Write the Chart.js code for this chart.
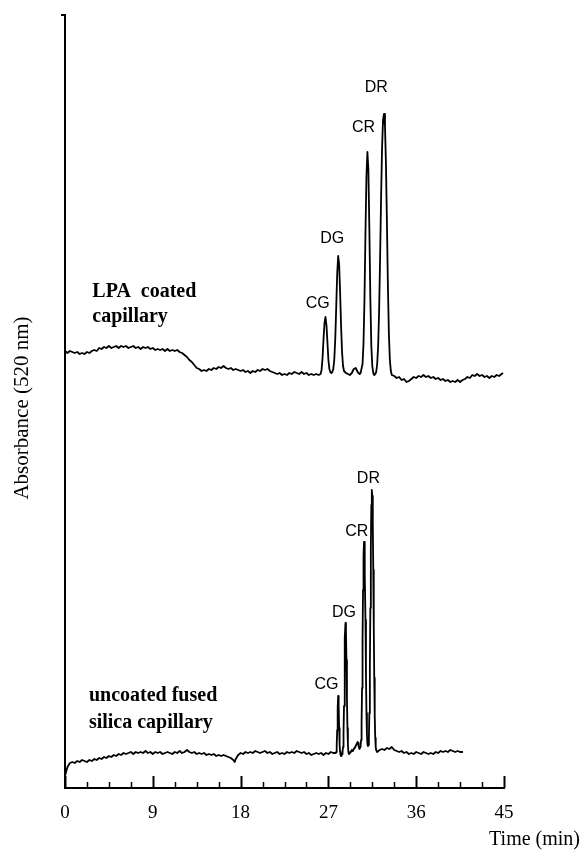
<!DOCTYPE html>
<html>
<head>
<meta charset="utf-8">
<style>
  html, body { margin: 0; padding: 0; background: #fff; }
  #wrap { width: 581px; height: 850px; }
</style>
<script src="https://cdn.jsdelivr.net/npm/chart.js@4.4.1/dist/chart.umd.min.js"></script>
</head>
<body>
<div id="wrap"><canvas id="chromatogram" width="581" height="850"></canvas></div>
<script>
// time axis (min)
const xTicksMajor = [0, 9, 18, 27, 36, 45];

// LPA coated capillary trace
const lpaTime = [
  0, 0.25, 0.5, 0.75, 1, 1.25, 1.5, 1.75, 2, 2.25, 2.5, 2.75, 3, 3.25, 3.5, 3.75,
  4, 4.25, 4.5, 4.75, 5, 5.25, 5.5, 5.75, 6, 6.25, 6.5, 6.75, 7, 7.25, 7.5, 7.75,
  8, 8.25, 8.5, 8.75, 9, 9.25, 9.5, 9.75, 10, 10.25, 10.5, 10.75, 11, 11.25, 11.5, 11.75,
  12, 12.25, 12.5, 12.75, 13, 13.25, 13.5, 13.75, 14, 14.25, 14.5, 14.75, 15, 15.25, 15.5, 15.75,
  16, 16.25, 16.5, 16.75, 17, 17.25, 17.5, 17.75, 18, 18.25, 18.5, 18.75, 19, 19.25, 19.5, 19.75,
  20, 20.25, 20.5, 20.75, 21, 21.25, 21.5, 21.75, 22, 22.25, 22.5, 22.75, 23, 23.25, 23.5, 23.75,
  24, 24.25, 24.5, 24.75, 25, 25.25, 25.5, 25.75, 26, 26.2, 26.3, 26.4, 26.5, 26.6, 26.7, 26.8,
  26.9, 27, 27.1, 27.2, 27.3, 27.4, 27.5, 27.6, 27.7, 27.8, 27.9, 28, 28.1, 28.2, 28.3, 28.4,
  28.5, 28.6, 28.8, 29, 29.2, 29.4, 29.6, 29.8, 30, 30.2, 30.3, 30.5, 30.6, 30.7, 30.8, 30.9,
  31, 31.1, 31.2, 31.3, 31.4, 31.5, 31.6, 31.7, 31.8, 31.9, 32, 32.1, 32.2, 32.3, 32.4, 32.5,
  32.6, 32.7, 32.8, 32.9, 33, 33.1, 33.2, 33.3, 33.4, 33.5, 33.75, 34, 34.25, 34.5, 34.75, 35,
  35.25, 35.5, 35.75, 36, 36.25, 36.5, 36.75, 37, 37.25, 37.5, 37.75, 38, 38.25, 38.5, 38.75, 39,
  39.25, 39.5, 39.75, 40, 40.25, 40.5, 40.75, 41, 41.25, 41.5, 41.75, 42, 42.25, 42.5, 42.75, 43,
  43.25, 43.5, 43.75, 44, 44.25, 44.5, 44.75, 44.9
];
const lpaAbs = [
  43.7, 43.5, 43.7, 43.6, 43.5, 43.6, 43.4, 43.5, 43.4, 43.6, 43.5, 43.7, 43.8, 43.7, 44.0, 43.9,
  44.1, 44.0, 44.2, 44.0, 44.1, 44.2, 44.0, 44.2, 44.1, 44.2, 44.0, 44.1, 44.2, 44.0, 44.1, 43.9,
  44.1, 44.0, 44.1, 43.9, 44.0, 43.8, 43.9, 43.8, 43.9, 43.7, 43.9, 43.7, 43.8, 43.7, 43.8, 43.6,
  43.5, 43.3, 43.1, 42.8, 42.6, 42.3, 42.0, 41.9, 41.7, 41.8, 41.7, 41.9, 41.8, 42.0, 41.9, 42.1,
  42.0, 42.2, 42.0, 41.9, 42.0, 41.8, 41.9, 41.8, 41.7, 41.8, 41.6, 41.7, 41.5, 41.7, 41.6, 41.8,
  41.7, 41.9, 41.8, 41.9, 41.7, 41.6, 41.5, 41.4, 41.5, 41.3, 41.4, 41.3, 41.5, 41.4, 41.6, 41.5,
  41.4, 41.6, 41.4, 41.5, 41.3, 41.4, 41.3, 41.4, 41.3, 41.4, 41.8, 43.0, 44.9, 46.5, 47.1, 46.3,
  44.6, 42.8, 41.9, 41.6, 41.5, 41.6, 41.9, 42.8, 44.8, 48.0, 51.4, 53.2, 52.4, 49.6, 46.2, 43.6,
  42.2, 41.7, 41.5, 41.4, 41.3, 41.5, 41.9, 42.0, 41.6, 41.4, 41.5, 42.4, 44.5, 49.0, 55.5, 61.2,
  63.6, 61.8, 55.8, 49.0, 44.2, 42.2, 41.5, 41.3, 41.4, 41.6, 42.4, 44.2, 47.8, 53.0, 59.0, 64.0,
  66.8, 67.4, 66.2, 62.4, 56.5, 50.2, 45.4, 42.8, 41.7, 41.3, 41.2, 41.0, 41.1, 40.8, 40.9, 40.6,
  40.7, 40.9, 41.1, 41.0, 41.2, 41.1, 41.3, 41.1, 41.2, 41.0, 41.1, 40.9, 41.0, 40.8, 40.9, 40.7,
  40.8, 40.6, 40.7, 40.6, 40.8, 40.6, 40.8, 40.9, 41.1, 41.0, 41.3, 41.2, 41.4, 41.2, 41.3, 41.1,
  41.2, 41.0, 41.2, 41.1, 41.3, 41.2, 41.4, 41.5
];

// uncoated fused silica capillary trace
const silicaTime = [
  0, 0.25, 0.5, 0.75, 1, 1.25, 1.5, 1.75, 2, 2.25, 2.5, 2.75, 3, 3.25, 3.5, 3.75,
  4, 4.25, 4.5, 4.75, 5, 5.25, 5.5, 5.75, 6, 6.25, 6.5, 6.75, 7, 7.25, 7.5, 7.75,
  8, 8.25, 8.5, 8.75, 9, 9.25, 9.5, 9.75, 10, 10.25, 10.5, 10.75, 11, 11.25, 11.5, 11.75,
  12, 12.25, 12.5, 12.75, 13, 13.25, 13.5, 13.75, 14, 14.25, 14.5, 14.75, 15, 15.25, 15.5, 15.75,
  16, 16.25, 16.5, 16.75, 17, 17.25, 17.4, 17.5, 17.75, 18, 18.25, 18.5, 18.75, 19, 19.25, 19.5,
  19.75, 20, 20.25, 20.5, 20.75, 21, 21.25, 21.5, 21.75, 22, 22.25, 22.5, 22.75, 23, 23.25, 23.5,
  23.75, 24, 24.25, 24.5, 24.75, 25, 25.25, 25.5, 25.75, 26, 26.25, 26.5, 26.75, 27, 27.25, 27.5,
  27.75, 27.8, 27.85, 27.9, 27.95, 28, 28.05, 28.1, 28.15, 28.2, 28.25, 28.3, 28.35, 28.4, 28.45, 28.5,
  28.55, 28.6, 28.65, 28.7, 28.75, 28.8, 28.85, 28.9, 28.95, 29, 29.05, 29.1, 29.2, 29.3, 29.4, 29.5,
  29.6, 29.7, 29.8, 29.9, 30, 30.05, 30.1, 30.15, 30.2, 30.25, 30.3, 30.35, 30.4, 30.45, 30.5, 30.55,
  30.6, 30.65, 30.7, 30.75, 30.8, 30.85, 30.9, 30.95, 31, 31.05, 31.1, 31.15, 31.2, 31.25, 31.3, 31.35,
  31.4, 31.45, 31.5, 31.55, 31.6, 31.65, 31.7, 31.75, 31.8, 31.85, 31.9, 32, 32.25, 32.5, 32.75, 33,
  33.25, 33.5, 33.75, 34, 34.25, 34.5, 34.75, 35, 35.25, 35.5, 35.75, 36, 36.25, 36.5, 36.75, 37,
  37.25, 37.5, 37.75, 38, 38.25, 38.5, 38.75, 39, 39.25, 39.5, 39.75, 40, 40.25, 40.5, 40.8
];
const silicaAbs = [
  1.2, 2.1, 2.5, 2.6, 2.5, 2.7, 2.6, 2.8, 2.7, 2.6, 2.8, 2.7, 2.9, 2.8, 3.0, 2.9,
  3.1, 3.0, 3.2, 3.1, 3.3, 3.2, 3.4, 3.3, 3.5, 3.4, 3.5, 3.6, 3.4, 3.6, 3.5, 3.6,
  3.5, 3.7, 3.5, 3.6, 3.4, 3.6, 3.5, 3.6, 3.4, 3.5, 3.6, 3.5, 3.4, 3.6, 3.5, 3.7,
  3.5, 3.6, 3.8, 3.6, 3.5, 3.6, 3.4, 3.5, 3.4, 3.5, 3.3, 3.4, 3.3, 3.4, 3.2, 3.3,
  3.2, 3.3, 3.2, 3.1, 3.0, 2.8, 2.6, 2.9, 3.3, 3.5, 3.4, 3.6, 3.5, 3.6, 3.5, 3.7,
  3.6, 3.5, 3.6, 3.7, 3.5, 3.6, 3.4, 3.5, 3.6, 3.4, 3.5, 3.4, 3.6, 3.5, 3.6, 3.5,
  3.7, 3.6, 3.5, 3.6, 3.4, 3.5, 3.3, 3.4, 3.5, 3.4, 3.5, 3.3, 3.5, 3.4, 3.6, 3.5,
  3.5, 3.6, 4.2, 5.8, 8.0, 9.2, 8.2, 6.0, 4.3, 3.6, 3.3, 3.2, 3.3, 3.4, 3.6, 4.1,
  5.5, 8.2, 11.8, 15.0, 16.5, 15.6, 12.8, 9.0, 6.0, 4.3, 3.6, 3.4, 3.5, 3.6, 3.8, 3.7,
  3.9, 4.0, 4.2, 4.4, 4.6, 4.5, 4.2, 4.0, 3.9, 4.1, 4.2, 4.8, 6.5, 10.0, 14.8, 19.8,
  23.2, 24.6, 24.2, 21.5, 16.8, 11.5, 7.5, 5.3, 4.4, 4.2, 4.3, 5.0, 7.5, 12.0, 18.0, 24.0,
  28.3, 29.8, 29.2, 26.5, 21.8, 16.2, 11.0, 7.2, 5.0, 4.1, 3.8, 3.6, 3.8, 3.9, 3.8, 4.0,
  3.9, 4.1, 3.8, 3.7, 3.6, 3.7, 3.5, 3.6, 3.4, 3.5, 3.4, 3.6, 3.5, 3.4, 3.6, 3.5,
  3.4, 3.5, 3.4, 3.6, 3.5, 3.7, 3.6, 3.7, 3.6, 3.8, 3.7, 3.6, 3.7, 3.6, 3.6
];

// text placed in data units (time, absorbance)
const peakLabels = [
  { text: 'CG', t: 25.9, a: 48.4 }, { text: 'DG', t: 27.4, a: 54.9 },
  { text: 'CR', t: 30.6, a: 66.0 }, { text: 'DR', t: 31.9, a: 70.0 },
  { text: 'CG', t: 26.8, a: 10.3 }, { text: 'DG', t: 28.6, a: 17.5 },
  { text: 'CR', t: 29.9, a: 25.6 }, { text: 'DR', t: 31.1, a: 30.9 }
];
const sampleLabels = [
  { text: 'LPA  coated', t: 2.8, a: 49.1 }, { text: 'capillary', t: 2.8, a: 46.6 },
  { text: 'uncoated fused', t: 2.45, a: 8.7 }, { text: 'silica capillary', t: 2.45, a: 6.0 }
];

const Y_MAX = 77.3;
const serif = '"Liberation Serif", "Times New Roman", serif';
const sans = '"Liberation Sans", Arial, sans-serif';

function toPoints(times, values) {
  return times.map((t, i) => ({ x: t, y: values[i] }));
}

function isMajor(v) {
  return Math.abs(v / 9 - Math.round(v / 9)) < 1e-6;
}

const decorPlugin = {
  id: 'decor',
  afterDraw(chart) {
    const { ctx, scales: { x, y } } = chart;
    ctx.save();
    // inward ticks on time axis
    ctx.strokeStyle = '#000';
    x.ticks.forEach(tk => {
      const px = Math.round(x.getPixelForValue(tk.value)) + 0.5;
      const major = isMajor(tk.value);
      ctx.lineWidth = major ? 2 : 1.5;
      ctx.beginPath();
      ctx.moveTo(px, x.top);
      ctx.lineTo(px, x.top - (major ? 12 : 6));
      ctx.stroke();
    });

    ctx.fillStyle = '#000';
    ctx.font = '16px ' + sans;
    ctx.textAlign = 'center';
    ctx.textBaseline = 'middle';
    peakLabels.forEach(l => ctx.fillText(l.text, x.getPixelForValue(l.t), y.getPixelForValue(l.a)));

    ctx.font = 'bold 20px ' + serif;
    ctx.textAlign = 'left';
    ctx.textBaseline = 'alphabetic';
    sampleLabels.forEach(l => ctx.fillText(l.text, x.getPixelForValue(l.t), y.getPixelForValue(l.a)));

    ctx.font = '20px ' + serif;
    ctx.textAlign = 'right';
    ctx.fillText('Time (min)', chart.width - 1, chart.height - 5);

    // y axis title
    ctx.translate(22, 408);
    ctx.rotate(-Math.PI / 2);
    ctx.font = '21px ' + serif;
    ctx.textAlign = 'center';
    ctx.textBaseline = 'middle';
    ctx.fillText('Absorbance (520 nm)', 0, 0);
    ctx.restore();
  }
};

const traceStyle = {
  borderColor: '#000', borderWidth: 1.8, borderJoinStyle: 'round',
  pointRadius: 0, tension: 0, fill: false
};

new Chart(document.getElementById('chromatogram'), {
  type: 'line',
  data: {
    datasets: [
      Object.assign({ label: 'LPA coated capillary', data: toPoints(lpaTime, lpaAbs) }, traceStyle),
      Object.assign({ label: 'uncoated fused silica capillary', data: toPoints(silicaTime, silicaAbs) }, traceStyle)
    ]
  },
  options: {
    responsive: false,
    devicePixelRatio: 1,
    animation: false,
    layout: { padding: { top: 15, right: 77, bottom: 0, left: 0 } },
    plugins: { legend: { display: false }, tooltip: { enabled: false } },
    scales: {
      x: {
        type: 'linear',
        min: xTicksMajor[0],
        max: xTicksMajor[xTicksMajor.length - 1],
        ticks: {
          stepSize: 2.25,
          autoSkip: false,
          maxRotation: 0,
          padding: 14,
          color: '#000',
          font: { family: serif, size: 19 },
          callback: v => (isMajor(v) ? String(Math.round(v)) : '')
        },
        grid: { display: true, drawOnChartArea: false, drawTicks: false },
        border: { display: true, color: '#000', width: 2 },
        afterFit: s => { s.height = 62; }
      },
      y: {
        min: 0,
        max: Y_MAX,
        ticks: { display: false },
        afterBuildTicks: s => { s.ticks = [{ value: Y_MAX }]; },
        grid: { display: true, drawOnChartArea: false, drawTicks: true, tickLength: 4, color: '#000', lineWidth: 2 },
        border: { display: true, color: '#000', width: 2 },
        title: { display: false, text: 'Absorbance (520 nm)' },
        afterFit: s => { s.width = 65; }
      }
    }
  },
  plugins: [decorPlugin]
});
</script>
</body>
</html>
